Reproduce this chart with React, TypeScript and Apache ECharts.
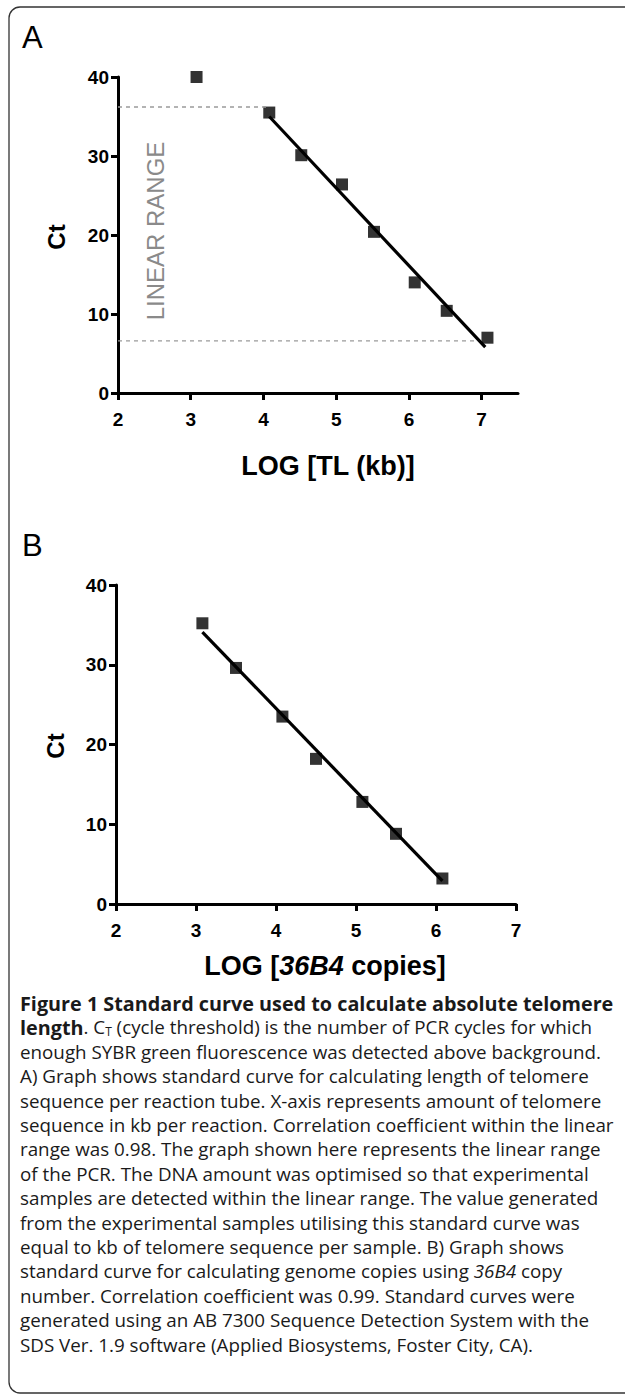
import React, { useEffect, useRef } from "react";
import * as echarts from "echarts";

// ---- data ----
const xTicks = [2, 3, 4, 5, 6, 7];
const yTicks = [0, 10, 20, 30, 40];

// Panel A: LOG [TL (kb)] vs Ct
const aLogTL = [3.08, 4.08, 4.52, 5.08, 5.52, 6.08, 6.52, 7.08];
const aCt = [40.0, 35.5, 30.1, 26.4, 20.4, 14.0, 10.4, 7.0];
const aFitX = [4.08, 7.05];
const aFitY = [35.0, 5.8];
const aRangeTopX = [2, 4.08];
const aRangeTopY = [36.2, 36.2];
const aRangeBottomX = [2, 7.0];
const aRangeBottomY = [6.6, 6.6];

// Panel B: LOG [36B4 copies] vs Ct
const bLog = [3.08, 3.5, 4.08, 4.5, 5.08, 5.5, 6.08];
const bCt = [35.2, 29.6, 23.5, 18.2, 12.8, 8.8, 3.2];
const bFitX = [3.08, 6.08];
const bFitY = [34.1, 2.9];

const captionLines = [
  "{b|Figure 1 Standard curve used to calculate absolute telomere}",
  "{b|length}{r|. C}{sub|T}{r| (cycle threshold) is the number of PCR cycles for which}",
  "{r|enough SYBR green fluorescence was detected above background.}",
  "{r|A) Graph shows standard curve for calculating length of telomere}",
  "{r|sequence per reaction tube. X-axis represents amount of telomere}",
  "{r|sequence in kb per reaction. Correlation coefficient within the linear}",
  "{r|range was 0.98. The graph shown here represents the linear range}",
  "{r|of the PCR. The DNA amount was optimised so that experimental}",
  "{r|samples are detected within the linear range. The value generated}",
  "{r|from the experimental samples utilising this standard curve was}",
  "{r|equal to kb of telomere sequence per sample. B) Graph shows}",
  "{r|standard curve for calculating genome copies using }{i|36B4}{r| copy}",
  "{r|number. Correlation coefficient was 0.99. Standard curves were}",
  "{r|generated using an AB 7300 Sequence Detection System with the}",
  "{r|SDS Ver. 1.9 software (Applied Biosystems, Foster City, CA).}",
];

const ARIAL = "Liberation Sans, Arial, sans-serif";
const CAP = "Open Sans, Noto Sans, sans-serif";
const CAP_SIZE = 18.8;
const CAP_BOLD_SIZE = 19.8;
const CAP_COLOR = "#1a1a1a";

const pairs = (xs: number[], ys: number[]) => xs.map((x, i) => [x, ys[i]]);

function axisBase(gridIndex: number, margin: number) {
  return {
    gridIndex,
    type: "value",
    axisLine: { show: true, onZero: false, lineStyle: { color: "#000", width: 3 } },
    axisTick: { show: true, inside: false, length: 7, lineStyle: { color: "#000", width: 3 } },
    axisLabel: {
      color: "#000",
      fontFamily: ARIAL,
      fontWeight: "bold",
      fontSize: 19,
      margin,
    },
    splitLine: { show: false },
  };
}

function makeX(gridIndex: number, max: number) {
  const b = axisBase(gridIndex, 17);
  return {
    ...b,
    min: 2,
    max,
    interval: 1,
    axisTick: { ...b.axisTick, customValues: xTicks },
    axisLabel: { ...b.axisLabel, customValues: xTicks },
  };
}

function makeY(gridIndex: number) {
  const b = axisBase(gridIndex, 9);
  return {
    ...b,
    min: 0,
    max: 40,
    interval: 10,
    axisTick: { ...b.axisTick, customValues: yTicks },
    axisLabel: { ...b.axisLabel, customValues: yTicks },
  };
}

export default function App() {
  const ref = useRef<HTMLDivElement>(null);
  useEffect(() => {
    if (!ref.current) return;
    const chart = echarts.init(ref.current, null, { renderer: "svg" });

    const capRich = {
      b: { fontFamily: CAP, fontSize: CAP_BOLD_SIZE, fontWeight: "bold", fill: CAP_COLOR, color: CAP_COLOR },
      r: { fontFamily: CAP, fontSize: CAP_SIZE, fill: CAP_COLOR, color: CAP_COLOR },
      i: { fontFamily: CAP, fontSize: CAP_SIZE, fontStyle: "italic", fill: CAP_COLOR, color: CAP_COLOR },
      sub: { fontFamily: CAP, fontSize: 12, fill: CAP_COLOR, color: CAP_COLOR, padding: [9, 0, 0, 0] },
    };

    const captionGraphics = captionLines.map((t, i) => ({
      type: "text",
      x: 20,
      y: 1003 + i * 24.4,
      style: {
        text: t,
        fontFamily: CAP,
        fontSize: CAP_SIZE,
        fill: CAP_COLOR,
        verticalAlign: "middle",
        align: "left",
        rich: capRich,
      },
    }));

    const option: any = {
      animation: false,
      backgroundColor: "#fff",
      grid: [
        { left: 118, top: 77, width: 400, height: 316 },
        { left: 116, top: 585, width: 400, height: 319 },
      ],
      xAxis: [makeX(0, 7.5), makeX(1, 7)],
      yAxis: [makeY(0), makeY(1)],
      series: [
        {
          type: "line",
          xAxisIndex: 0,
          yAxisIndex: 0,
          data: pairs(aRangeTopX, aRangeTopY),
          symbol: "none",
          lineStyle: { color: "#9a9a9a", width: 1.3, type: [4, 4] },
          silent: true,
        },
        {
          type: "line",
          xAxisIndex: 0,
          yAxisIndex: 0,
          data: pairs(aRangeBottomX, aRangeBottomY),
          symbol: "none",
          lineStyle: { color: "#9a9a9a", width: 1.3, type: [4, 4] },
          silent: true,
        },
        {
          type: "line",
          xAxisIndex: 0,
          yAxisIndex: 0,
          data: pairs(aFitX, aFitY),
          symbol: "none",
          lineStyle: { color: "#000", width: 3.2 },
          silent: true,
        },
        {
          type: "scatter",
          xAxisIndex: 0,
          yAxisIndex: 0,
          data: pairs(aLogTL, aCt),
          symbol: "rect",
          symbolSize: 12,
          itemStyle: { color: "#000" },
        },
        {
          type: "line",
          xAxisIndex: 1,
          yAxisIndex: 1,
          data: pairs(bFitX, bFitY),
          symbol: "none",
          lineStyle: { color: "#000", width: 3.2 },
          silent: true,
        },
        {
          type: "scatter",
          xAxisIndex: 1,
          yAxisIndex: 1,
          data: pairs(bLog, bCt),
          symbol: "rect",
          symbolSize: 12,
          itemStyle: { color: "#000" },
        },
      ],
      graphic: [
        {
          type: "rect",
          shape: { x: 9, y: 7, width: 660, height: 1386, r: 11 },
          style: { fill: "none", stroke: "#333", lineWidth: 1.3 },
          silent: true,
        },
        {
          type: "text",
          left: 22,
          top: 22,
          style: { text: "A", fontFamily: ARIAL, fontSize: 31, fill: "#000" },
        },
        {
          type: "text",
          left: 22,
          top: 530,
          style: { text: "B", fontFamily: ARIAL, fontSize: 31, fill: "#000" },
        },
        {
          type: "text",
          x: 155,
          y: 231,
          rotation: Math.PI / 2,
          style: {
            text: "LINEAR RANGE",
            fontFamily: ARIAL,
            fontSize: 24,
            fill: "#8a8a8a",
            align: "center",
            verticalAlign: "middle",
          },
        },
        {
          type: "text",
          x: 56,
          y: 237,
          rotation: Math.PI / 2,
          style: {
            text: "Ct",
            fontFamily: ARIAL,
            fontSize: 24,
            fontWeight: "bold",
            fill: "#000",
            align: "center",
            verticalAlign: "middle",
          },
        },
        {
          type: "text",
          x: 55,
          y: 746,
          rotation: Math.PI / 2,
          style: {
            text: "Ct",
            fontFamily: ARIAL,
            fontSize: 24,
            fontWeight: "bold",
            fill: "#000",
            align: "center",
            verticalAlign: "middle",
          },
        },
        {
          type: "text",
          x: 328,
          y: 466,
          style: {
            text: "LOG [TL (kb)]",
            fontFamily: ARIAL,
            fontSize: 27,
            fontWeight: "bold",
            fill: "#000",
            align: "center",
            verticalAlign: "middle",
          },
        },
        {
          type: "text",
          x: 325,
          y: 966,
          style: {
            text: "{b|LOG [}{i|36B4}{b| copies]}",
            fontFamily: ARIAL,
            fontSize: 27,
            fontWeight: "bold",
            fill: "#000",
            align: "center",
            verticalAlign: "middle",
            rich: {
              b: { fontFamily: ARIAL, fontSize: 27, fontWeight: "bold", fill: "#000", color: "#000" },
              i: {
                fontFamily: ARIAL,
                fontSize: 27,
                fontWeight: "bold",
                fontStyle: "italic",
                fill: "#000",
                color: "#000",
              },
            },
          },
        },
        ...captionGraphics,
      ],
    };

    chart.setOption(option);
    return () => chart.dispose();
  }, []);

  return (
    <div
      ref={ref}
      style={{ position: "absolute", left: 0, top: 0, width: 625, height: 1396, background: "#fff" }}
    />
  );
}
